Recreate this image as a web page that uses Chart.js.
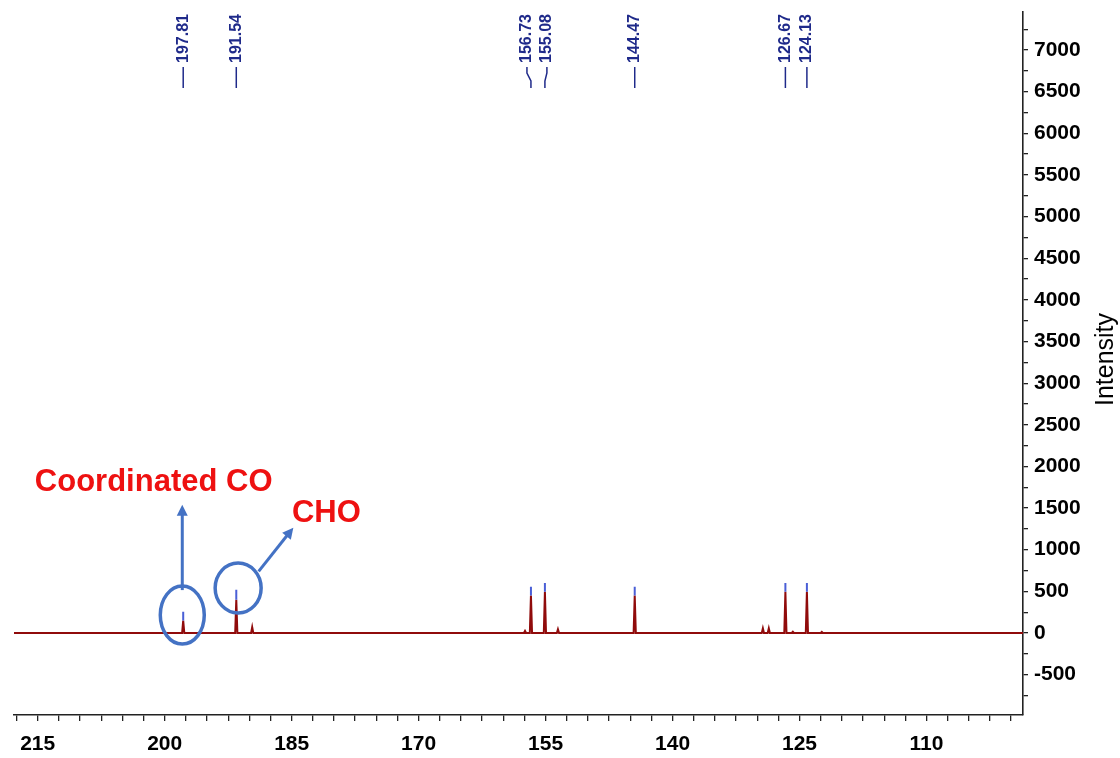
<!DOCTYPE html>
<html>
<head>
<meta charset="utf-8">
<title>13C NMR spectrum</title>
<script src="https://cdn.jsdelivr.net/npm/chart.js@4.4.1/dist/chart.umd.min.js"></script>
<style>
  html, body { margin: 0; padding: 0; background: #fff; }
  #wrap { width: 1120px; height: 758px; position: relative; }
</style>
</head>
<body>
<div id="wrap"><canvas id="nmr"></canvas></div>
<script>
// picked peaks (ppm), red trace height and blue peak-pick marker top
const peakShifts = [197.81, 191.54, 156.73, 155.08, 144.47, 126.67, 124.13];
const peakHeights = [150, 400, 450, 495, 450, 495, 495];
const markerTops = [255, 520, 555, 600, 555, 600, 600];

// small unlabelled signals on the baseline
const minorShifts = [189.66, 157.43, 153.54, 129.33, 128.63, 125.79, 122.37];
const minorHeights = [70, 25, 45, 55, 55, 15, 12];

const xTickLabels = [215, 200, 185, 170, 155, 140, 125, 110];
const yTickLabels = [-500, 0, 500, 1000, 1500, 2000, 2500, 3000, 3500, 4000, 4500, 5000, 5500, 6000, 6500, 7000];

const X_MIN = 98.6, X_MAX = 217.8;

// spectrum trace: flat baseline with narrow lines at each signal
const trace = [{ x: X_MAX, y: 0 }, { x: X_MIN, y: 0 }];
const addLine = (ppm, h) => {
  trace.push({ x: ppm + 0.13, y: 0 }, { x: ppm, y: h }, { x: ppm - 0.13, y: 0 });
};
peakShifts.forEach((p, i) => addLine(p, peakHeights[i]));
minorShifts.forEach((p, i) => addLine(p, minorHeights[i]));
trace.sort((a, b) => b.x - a.x);

const markers = [];
peakShifts.forEach((p, i) => {
  markers.push({ x: p, y: peakHeights[i] }, { x: p, y: markerTops[i] }, { x: p, y: null });
});

const FONT = "'Liberation Sans', Arial, sans-serif";

function arrow(ctx, x1, y1, x2, y2) {
  const a = Math.atan2(y2 - y1, x2 - x1);
  const head = 11;
  ctx.beginPath();
  ctx.moveTo(x1, y1);
  ctx.lineTo(x2 - Math.cos(a) * head * 0.8, y2 - Math.sin(a) * head * 0.8);
  ctx.stroke();
  ctx.beginPath();
  ctx.moveTo(x2, y2);
  ctx.lineTo(x2 - head * Math.cos(a) + 5.5 * Math.sin(a), y2 - head * Math.sin(a) - 5.5 * Math.cos(a));
  ctx.lineTo(x2 - head * Math.cos(a) - 5.5 * Math.sin(a), y2 - head * Math.sin(a) + 5.5 * Math.cos(a));
  ctx.closePath();
  ctx.fill();
}

const decorations = {
  id: "decorations",
  afterDraw(chart) {
    const ctx = chart.ctx;
    const xs = chart.scales.x, ys = chart.scales.y;
    const px = (v) => xs.getPixelForValue(v);
    const py = (v) => ys.getPixelForValue(v);
    const area = chart.chartArea;

    // peak labels along the top, rotated, with leader lines
    const nudge = { "156.73": -4, "155.08": 2 };
    ctx.save();
    ctx.fillStyle = "#1f2a8a";
    ctx.strokeStyle = "#1f2a8a";
    ctx.lineWidth = 1.5;
    ctx.font = "bold 16px " + FONT;
    peakShifts.forEach((p) => {
      const label = p.toFixed(2);
      const x = px(p);
      const lx = x + (nudge[label] || 0);
      ctx.save();
      ctx.translate(lx, 63);
      ctx.rotate(-Math.PI / 2);
      ctx.textAlign = "left";
      ctx.textBaseline = "middle";
      ctx.fillText(label, 0, 0);
      ctx.restore();
      ctx.beginPath();
      if (lx !== x) {
        ctx.moveTo(lx, 67);
        ctx.lineTo(lx, 73);
        ctx.lineTo(x, 81);
        ctx.lineTo(x, 88);
      } else {
        ctx.moveTo(x, 67);
        ctx.lineTo(x, 88);
      }
      ctx.stroke();
    });
    ctx.restore();

    // y axis title, reading bottom to top
    ctx.save();
    ctx.fillStyle = "#000";
    ctx.font = "25px " + FONT;
    ctx.translate(area.right + 83, (area.top + area.bottom) / 2 - 4);
    ctx.rotate(-Math.PI / 2);
    ctx.textAlign = "center";
    ctx.textBaseline = "middle";
    ctx.fillText("Intensity", 0, 0);
    ctx.restore();

    // carbonyl annotations
    ctx.save();
    ctx.strokeStyle = "#4472c4";
    ctx.fillStyle = "#4472c4";
    ctx.lineWidth = 3.5;
    ctx.beginPath();
    ctx.ellipse(px(197.92), py(215), 22, 29, 0, 0, Math.PI * 2);
    ctx.stroke();
    ctx.beginPath();
    ctx.ellipse(px(191.32), py(540), 23, 25, 0, 0, Math.PI * 2);
    ctx.stroke();
    ctx.lineWidth = 3;
    arrow(ctx, px(197.92), py(515), px(197.92), py(1540));
    arrow(ctx, px(188.9), py(740), px(184.8), py(1265));

    ctx.fillStyle = "#ee1111";
    ctx.font = "bold 31px " + FONT;
    ctx.textAlign = "center";
    ctx.textBaseline = "middle";
    ctx.fillText("Coordinated CO", px(201.3), py(1805));
    ctx.fillText("CHO", px(180.9), py(1430));
    ctx.restore();
  },
};

const nmrChart = new Chart(document.getElementById("nmr"), {
  type: "line",
  data: {
    datasets: [
      {
        label: "peak picks",
        data: markers,
        borderColor: "#4a5fd6",
        borderWidth: 2,
        pointRadius: 0,
        spanGaps: false,
      },
      {
        label: "13C spectrum",
        data: trace,
        borderColor: "#900b0b",
        borderWidth: 2,
        pointRadius: 0,
        tension: 0,
      },
    ],
  },
  options: {
    responsive: true,
    maintainAspectRatio: false,
    animation: false,
    layout: {
      padding: { left: 14, top: 12, right: 0, bottom: 0 },
    },
    plugins: {
      legend: { display: false },
      tooltip: { enabled: false },
    },
    scales: {
      x: {
        type: "linear",
        reverse: true,
        min: X_MIN,
        max: X_MAX,
        afterBuildTicks: (scale) => {
          const ticks = [];
          for (let v = 217.5; v >= 100; v -= 2.5) ticks.push({ value: v });
          scale.ticks = ticks;
        },
        afterFit: (scale) => {
          scale.height = 43;
          scale.paddingLeft = 0;
          scale.paddingRight = 0;
        },
        ticks: {
          autoSkip: false,
          maxRotation: 0,
          padding: 11,
          color: "#000",
          font: { family: FONT, size: 21, weight: "bold" },
          callback: (v) => (xTickLabels.includes(v) ? String(v) : ""),
        },
        grid: {
          drawOnChartArea: false,
          drawTicks: true,
          tickLength: 6,
          color: "#222",
          lineWidth: 1.3,
        },
        border: { display: true, color: "#222", width: 1.6 },
      },
      y: {
        type: "linear",
        position: "right",
        min: -985,
        max: 7457,
        afterBuildTicks: (scale) => {
          const ticks = [];
          for (let v = -750; v <= 7250; v += 250) ticks.push({ value: v });
          scale.ticks = ticks;
        },
        afterFit: (scale) => {
          scale.width = 97;
          scale.paddingTop = 0;
          scale.paddingBottom = 0;
        },
        ticks: {
          autoSkip: false,
          padding: 6,
          color: "#000",
          font: { family: FONT, size: 21, weight: "bold" },
          callback: (v) => (yTickLabels.includes(v) ? String(v) : ""),
        },
        grid: {
          drawOnChartArea: false,
          drawTicks: true,
          tickLength: 5,
          color: "#222",
          lineWidth: 1.3,
        },
        border: { display: true, color: "#222", width: 1.6 },
      },
    },
  },
  plugins: [decorations],
});
</script>
</body>
</html>
